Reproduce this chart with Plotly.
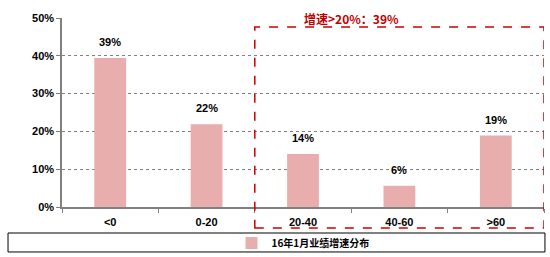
import plotly.graph_objects as go

categories = ["<0", "0-20", "20-40", "40-60", ">60"]
values = [0.394, 0.219, 0.140, 0.056, 0.189]
labels = ["39%", "22%", "14%", "6%", "19%"]
series_name = "16年1月业绩增速分布"
note_text = "增速>20%：39%"
y_ticks = [0, 0.1, 0.2, 0.3, 0.4, 0.5]
y_tick_text = ["0%", "10%", "20%", "30%", "40%", "50%"]

bar_color = "#E8AEAE"
num_font = dict(family="Liberation Sans, Arial", size=11, color="#000000", weight="bold")

fig = go.Figure()
fig.add_trace(go.Bar(
    x=categories, y=values, name=series_name,
    marker=dict(color=bar_color, line=dict(width=0)),
    width=0.33,
))

annotations = [
    dict(xref="x", yref="y", x=c, y=v, text=t, showarrow=False,
         xanchor="center", yanchor="bottom", yshift=8, font=num_font)
    for c, v, t in zip(categories, values, labels)
]
annotations.append(
    dict(xref="x", yref="paper", x=2.5, y=1.0, text=note_text, showarrow=False,
         xanchor="center", yanchor="middle",
         font=dict(family="Noto Sans CJK SC", size=12, color="#C00000", weight="bold"))
)

fig.update_layout(
    width=550, height=257,
    margin=dict(l=62, r=6, t=18, b=50, autoexpand=False),
    paper_bgcolor="white", plot_bgcolor="white",
    showlegend=True,
    legend=dict(
        orientation="h", x=0.5, xanchor="center", y=-0.19, yanchor="middle",
        font=dict(family="Noto Sans CJK SC", size=10, color="#000000", weight="bold"),
        bgcolor="rgba(0,0,0,0)", itemwidth=30,
    ),
    xaxis=dict(
        type="category", range=[-0.5, 4.5],
        showline=True, linecolor="#808080", linewidth=1.5,
        ticks="outside", tickson="boundaries", ticklen=4, tickcolor="#808080",
        tickfont=num_font, showgrid=False, ticklabelstandoff=4,
    ),
    yaxis=dict(
        range=[0, 0.5], tickvals=y_ticks, ticktext=y_tick_text,
        showline=True, linecolor="#808080", linewidth=1.5,
        ticks="outside", ticklen=4, tickcolor="#808080",
        tickfont=num_font,
        showgrid=True, gridcolor="#808080", gridwidth=1, griddash="dot",
        zeroline=False,
    ),
    shapes=[
        dict(type="rect", xref="x", yref="paper", x0=1.5, x1=4.5, y0=-0.111, y1=0.952,
             line=dict(color="#CC0000", width=1.5, dash="dash"), fillcolor="rgba(0,0,0,0)"),
        dict(type="rect", xref="paper", yref="paper", x0=-0.112, x1=1.002, y0=-0.238, y1=-0.1376,
             line=dict(color="#000000", width=1), fillcolor="rgba(0,0,0,0)"),
    ],
    annotations=annotations,
)

fig.write_html("out.html")
